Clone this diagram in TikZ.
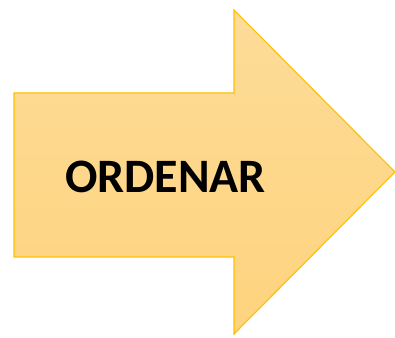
\documentclass[tikz,border=0pt]{standalone}
\usepackage{fontspec}
\setmainfont{Carlito}
\definecolor{arrowedge}{HTML}{FFC000}
\definecolor{arrowtop}{HTML}{FDDC98}
\definecolor{arrowbot}{HTML}{FED37E}
\begin{document}
\begin{tikzpicture}[x=1pt, y=1pt,
    arrowbody/.style={draw=arrowedge, line width=1.1pt, top color=arrowtop, bottom color=arrowbot},
    arrowtext/.style={font=\fontsize{48}{50}\selectfont\bfseries, text=black, inner sep=0, anchor=base}]

    \useasboundingbox (0, 0) rectangle (395, 337);

    % Arrow outline
    \coordinate (bodyTL) at (14, 244);
    \coordinate (bodyBL) at (14, 80);
    \coordinate (neckT) at (234, 244);
    \coordinate (neckB) at (234, 80);
    \coordinate (headT) at (234, 327);
    \coordinate (headB) at (234, 3);
    \coordinate (tip) at (395, 165);

    \draw[arrowbody] (bodyTL) -- (neckT) -- (headT) -- (tip) -- (headB)
        -- (neckB) -- (bodyBL) -- cycle;

    % Label
    \node[arrowtext] (label) at (165.5, 144) {ORDENAR};

\end{tikzpicture}
\end{document}
